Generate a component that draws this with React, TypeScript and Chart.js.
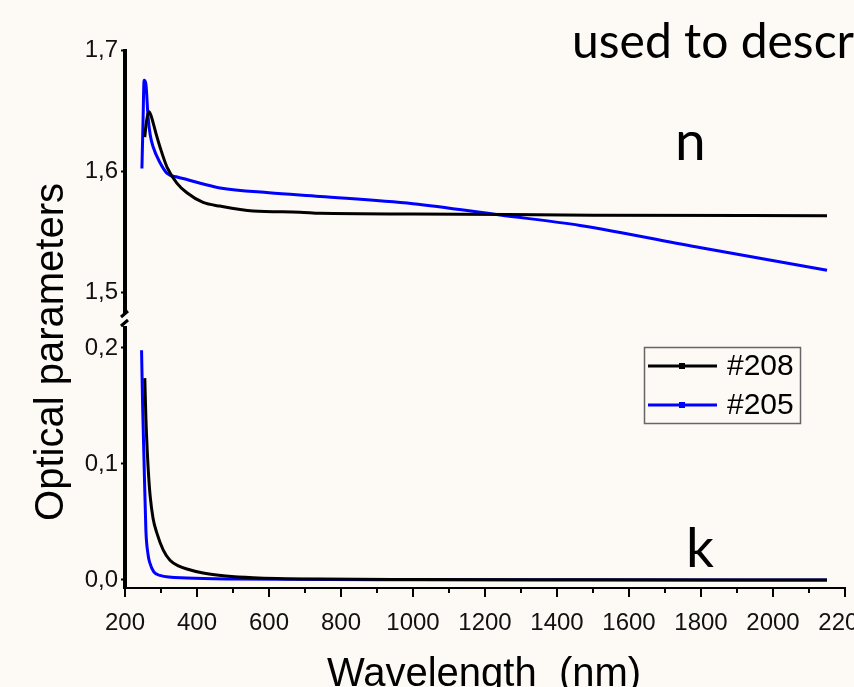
import React, { useEffect, useRef } from 'react';
import { Chart, registerables } from 'chart.js';

Chart.register(...registerables);

// ---------- data ----------
const legendLabels = ['#208', '#205'];

// refractive index n, sample #208 (black)
const nWavelength208 = [255, 258, 262, 267, 272, 278, 287, 297, 317, 344, 372, 417, 464, 556, 686, 742, 1000, 1500, 2150];
const n208 = [1.628, 1.637, 1.645, 1.649, 1.646, 1.640, 1.630, 1.620, 1.603, 1.590, 1.582, 1.574, 1.571, 1.567, 1.566, 1.565, 1.5645, 1.5635, 1.563];

// refractive index n, sample #205 (blue)
const nWavelength205 = [247, 250, 253, 258, 264, 270, 278, 297, 317, 345, 372, 420, 464, 600, 742, 1000, 1242, 1464, 1800, 2150];
const n205 = [1.602, 1.640, 1.675, 1.672, 1.645, 1.630, 1.620, 1.607, 1.598, 1.595, 1.593, 1.589, 1.586, 1.582, 1.579, 1.573, 1.5636, 1.555, 1.5365, 1.518];

// extinction coefficient k, sample #208 (black)
const kWavelength208 = [255, 258, 262, 266, 270, 278, 289, 306, 325, 350, 372, 417, 480, 556, 742, 1000, 1500, 2150];
const k208 = [0.174, 0.140, 0.110, 0.088, 0.072, 0.053, 0.040, 0.026, 0.017, 0.012, 0.0095, 0.006, 0.0035, 0.002, 0.0008, 0.0004, 0.0002, 0.0];

// extinction coefficient k, sample #205 (blue)
const kWavelength205 = [246, 249, 253, 258, 264, 269, 280, 297, 372, 500, 1000, 2150];
const k205 = [0.198, 0.150, 0.101, 0.043, 0.022, 0.0147, 0.007, 0.004, 0.0017, 0.0008, 0.0002, 0.0];

// tick labels
const xTicks = [200, 400, 600, 800, 1000, 1200, 1400, 1600, 1800, 2000, 2200];
const nTicks = [1.5, 1.6, 1.7];
const kTicks = [0.0, 0.1, 0.2];

const BG = '#FDF9F5';
const BLACK = '#000000';
const BLUE = '#0000FF';
const TICK_FONT = "'Liberation Sans', Arial, sans-serif";
const NOTE_FONT = "Lato, 'Open Sans', sans-serif";

const fmt = (v: number) => v.toFixed(1).replace('.', ',');
const pts = (xs: number[], ys: number[]) => xs.map((x, i) => ({ x, y: ys[i] }));

const decor = {
  id: 'decor',
  beforeDraw(chart: any) {
    const { ctx, width, height } = chart;
    ctx.save();
    ctx.fillStyle = BG;
    ctx.fillRect(0, 0, width, height);
    ctx.restore();
  },
  afterDraw(chart: any) {
    const { ctx, chartArea } = chart;
    const xs = chart.scales.x;
    const yN = chart.scales.yN;
    const ax = chartArea.left;
    const breakY = yN.bottom;
    ctx.save();
    ctx.strokeStyle = '#000';
    ctx.lineCap = 'butt';

    // y axis with break
    ctx.lineWidth = 4;
    ctx.beginPath();
    ctx.moveTo(ax, yN.getPixelForValue(nTicks[nTicks.length - 1]) - 1);
    ctx.lineTo(ax, breakY - 6);
    ctx.stroke();
    ctx.beginPath();
    ctx.moveTo(ax, breakY + 7);
    ctx.lineTo(ax, chartArea.bottom + 1);
    ctx.stroke();
    ctx.lineWidth = 3;
    ctx.beginPath();
    ctx.moveTo(ax - 4, breakY - 2);
    ctx.lineTo(ax + 3, breakY - 8);
    ctx.moveTo(ax - 4, breakY + 7);
    ctx.lineTo(ax + 3, breakY + 1);
    ctx.stroke();

    // x axis line and ticks
    ctx.lineWidth = 2;
    const by = chartArea.bottom;
    ctx.beginPath();
    ctx.moveTo(ax, by);
    ctx.lineTo(xs.getPixelForValue(xTicks[xTicks.length - 1]) + 1, by);
    ctx.stroke();
    ctx.beginPath();
    xTicks.forEach((v, i) => {
      const px = xs.getPixelForValue(v);
      ctx.moveTo(px, by);
      ctx.lineTo(px, by + 9);
      if (i < xTicks.length - 1) {
        const mx = xs.getPixelForValue((v + xTicks[i + 1]) / 2);
        ctx.moveTo(mx, by);
        ctx.lineTo(mx, by + 5);
      }
    });
    ctx.stroke();

    // axis titles
    ctx.fillStyle = '#000';
    ctx.font = `40px ${TICK_FONT}`;
    ctx.textAlign = 'center';
    ctx.textBaseline = 'alphabetic';
    ctx.fillText('Wavelength  (nm)', 484, 686);
    ctx.save();
    ctx.translate(63, 352);
    ctx.rotate(-Math.PI / 2);
    ctx.fillText('Optical parameters', 0, 0);
    ctx.restore();

    // annotation texts
    ctx.textAlign = 'left';
    ctx.font = `48px ${NOTE_FONT}`;
    ctx.fillText('used to descr', 572, 58);
    ctx.font = `55px ${NOTE_FONT}`;
    ctx.fillText('n', 675, 160);
    ctx.fillText('k', 686, 567);

    // legend
    ctx.strokeStyle = '#666';
    ctx.lineWidth = 1.5;
    ctx.strokeRect(644.5, 347.5, 156, 76);
    const rows = [
      { label: chart.data.datasets[0].label, color: chart.data.datasets[0].borderColor, y: 366 },
      { label: chart.data.datasets[1].label, color: chart.data.datasets[1].borderColor, y: 405 },
    ];
    ctx.font = `30px ${TICK_FONT}`;
    ctx.textBaseline = 'middle';
    rows.forEach((r) => {
      ctx.strokeStyle = r.color;
      ctx.fillStyle = r.color;
      ctx.lineWidth = 3;
      ctx.beginPath();
      ctx.moveTo(648, r.y);
      ctx.lineTo(717, r.y);
      ctx.stroke();
      ctx.fillRect(679, r.y - 3, 6, 6);
      ctx.fillStyle = '#000';
      ctx.fillText(r.label, 727, r.y + 1);
    });
    ctx.restore();
  },
};

export default function App() {
  const ref = useRef<HTMLCanvasElement | null>(null);

  useEffect(() => {
    document.documentElement.style.background = BG;
    document.body.style.background = BG;
    const canvas = ref.current;
    if (!canvas) return;
    const lineDs = (label: string, data: any[], color: string, axis: string) => ({
      label,
      data,
      yAxisID: axis,
      borderColor: color,
      backgroundColor: color,
      borderWidth: 3,
      pointRadius: 0,
      fill: false,
      cubicInterpolationMode: 'monotone' as const,
    });
    const tickFont = { family: TICK_FONT, size: 24 };
    const chart = new Chart(canvas, {
      type: 'line',
      data: {
        datasets: [
          lineDs(legendLabels[0], pts(nWavelength208, n208), BLACK, 'yN'),
          lineDs(legendLabels[1], pts(nWavelength205, n205), BLUE, 'yN'),
          lineDs(legendLabels[0], pts(kWavelength208, k208), BLACK, 'yK'),
          lineDs(legendLabels[1], pts(kWavelength205, k205), BLUE, 'yK'),
        ],
      },
      options: {
        animation: false,
        responsive: false,
        maintainAspectRatio: false,
        layout: { padding: { top: 50, right: 9, left: 0, bottom: 0 } },
        plugins: { legend: { display: false }, tooltip: { enabled: false } },
        scales: {
          x: {
            type: 'linear',
            min: xTicks[0],
            max: xTicks[xTicks.length - 1],
            afterBuildTicks: (s: any) => {
              s.ticks = xTicks.map((v) => ({ value: v }));
            },
            grid: { display: false },
            border: { display: false },
            ticks: { font: tickFont, color: '#111', padding: 13, maxRotation: 0, autoSkip: false, callback: (v: any) => String(v) },
            afterFit: (s: any) => {
              s.height = 99;
              s.paddingLeft = 0;
              s.paddingRight = 0;
            },
          },
          yN: {
            type: 'linear',
            position: 'left',
            stack: 'y',
            stackWeight: 1,
            weight: 1,
            min: 1.4777,
            max: 1.7,
            afterBuildTicks: (s: any) => {
              s.ticks = nTicks.map((v) => ({ value: v }));
            },
            ticks: { font: tickFont, color: '#111', padding: 3, callback: (v: any) => fmt(Number(v)) },
            grid: { drawOnChartArea: false, drawTicks: true, tickLength: 4, tickWidth: 2, tickColor: '#000' },
            border: { display: false },
            afterFit: (s: any) => {
              s.width = 125;
              s.paddingTop = 0;
              s.paddingBottom = 0;
            },
          },
          yK: {
            type: 'linear',
            position: 'left',
            stack: 'y',
            stackWeight: 1,
            weight: 0,
            min: -0.0069,
            max: 0.225,
            afterBuildTicks: (s: any) => {
              s.ticks = kTicks.map((v) => ({ value: v }));
            },
            ticks: { font: tickFont, color: '#111', padding: 3, callback: (v: any) => fmt(Number(v)) },
            grid: { drawOnChartArea: false, drawTicks: true, tickLength: 4, tickWidth: 2, tickColor: '#000' },
            border: { display: false },
            afterFit: (s: any) => {
              s.width = 125;
              s.paddingTop = 0;
              s.paddingBottom = 0;
            },
          },
        },
      } as any,
      plugins: [decor],
    });
    return () => chart.destroy();
  }, []);

  return (
    <div style={{ position: 'absolute', left: 0, top: 0, width: 854, height: 687, background: BG }}>
      <canvas ref={ref} width={854} height={687} style={{ width: 854, height: 687, display: 'block' }} />
    </div>
  );
}
